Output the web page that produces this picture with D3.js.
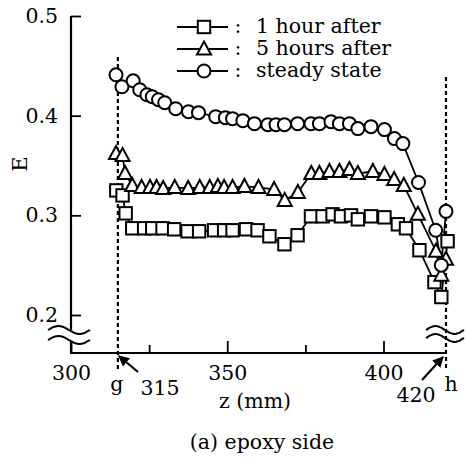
<!DOCTYPE html>
<html>
<head>
<meta charset="utf-8">
<script src="https://cdn.jsdelivr.net/npm/d3@7"></script>
<style>
  body { margin: 0; background: #fff; }
  text { font-family: "DejaVu Serif", serif; fill: #000; }
</style>
</head>
<body>
<svg id="chart" width="466" height="460"></svg>
<script>
// values: z (mm) and E for each curve
var hour1Z = [314.5, 316.5, 317.5, 319.6, 323.4, 326, 329.3, 333, 337.3, 341, 345.8, 349, 351.7, 356, 359.7, 363.5, 368.3, 372.5, 376.8, 380.5, 383.7, 386.4, 389.6, 391.8, 396, 400.3, 404.6, 407.2, 411.5, 416.3, 418.5, 420.5]
var hour1E = [0.325, 0.320, 0.302, 0.287, 0.287, 0.287, 0.287, 0.286, 0.284, 0.284, 0.285, 0.285, 0.285, 0.286, 0.285, 0.279, 0.271, 0.280, 0.299, 0.299, 0.301, 0.299, 0.300, 0.296, 0.299, 0.298, 0.291, 0.287, 0.265, 0.233, 0.218, 0.274]

var hour5Z = [314.4, 316.5, 317.3, 319.6, 322.6, 325.3, 327.4, 329.5, 333.2, 337.5, 341.2, 344.4, 347, 349, 351.7, 355.5, 360, 365, 368.4, 372.6, 376.9, 379.5, 382.7, 385.9, 389.1, 391.8, 396.6, 400.3, 403.4, 406.5, 411, 416.8, 418.5, 420]
var hour5E = [0.362, 0.360, 0.342, 0.330, 0.328, 0.328, 0.328, 0.327, 0.328, 0.327, 0.328, 0.328, 0.329, 0.328, 0.328, 0.329, 0.328, 0.326, 0.315, 0.323, 0.342, 0.342, 0.344, 0.344, 0.346, 0.342, 0.344, 0.341, 0.336, 0.330, 0.301, 0.264, 0.240, 0.256]

var steadyZ = [314.4, 316.3, 319.9, 322, 324.3, 326, 328, 330, 333.5, 337.6, 340.8, 346.3, 349.4, 351.7, 355, 358.7, 363, 365.6, 368.3, 372.5, 376.8, 379.5, 383.2, 385.9, 389.1, 391.8, 396, 400.3, 403.5, 406.2, 411.2, 416.7, 418.5, 420]
var steadyE = [0.441, 0.429, 0.435, 0.426, 0.421, 0.419, 0.416, 0.413, 0.407, 0.404, 0.403, 0.399, 0.398, 0.397, 0.395, 0.392, 0.391, 0.391, 0.391, 0.392, 0.392, 0.392, 0.394, 0.392, 0.392, 0.387, 0.389, 0.386, 0.377, 0.372, 0.333, 0.285, 0.250, 0.304]

var yTicks = [0.2, 0.3, 0.4, 0.5]
var xMajor = [300, 350, 400]
var xMinor = [325, 375]
var legendLabels = ["1 hour after", "5 hours after", "steady state"]

var svg = d3.select("#chart")

var x = d3.scaleLinear().domain([300, 420]).range([71, 446])
var y = d3.scaleLinear().domain([0.2, 0.5]).range([315, 16])
var axisY = 353

// y axis (ticks inside), domain drawn by hand because of the break
var yAxis = svg.append("g")
  .attr("transform", "translate(" + x(300) + ",0)")
  .call(d3.axisLeft(y).tickValues(yTicks).tickFormat(d3.format(".1f")).tickSize(-10).tickPadding(13))
yAxis.select(".domain").remove()
yAxis.selectAll("line").attr("stroke", "#000").attr("stroke-width", 1.8)
yAxis.selectAll("text").style("font-size", "20.5px").attr("fill", "#000")

// x axis, major and minor ticks pointing up
var xAxis = svg.append("g")
  .attr("transform", "translate(0," + axisY + ")")
  .call(d3.axisBottom(x).tickValues(xMajor).tickSize(-12).tickPadding(12))
xAxis.select(".domain").remove()
xAxis.selectAll("line").attr("stroke", "#000").attr("stroke-width", 1.8)
xAxis.selectAll("text").style("font-size", "20.5px").attr("fill", "#000")

var xMin = svg.append("g")
  .attr("transform", "translate(0," + axisY + ")")
  .call(d3.axisBottom(x).tickValues(xMinor).tickSize(-8).tickFormat(""))
xMin.select(".domain").remove()
xMin.selectAll("line").attr("stroke", "#000").attr("stroke-width", 1.8)

var ax = svg.append("g").attr("stroke", "#000").attr("stroke-width", 2.2).attr("fill", "none")
ax.append("line").attr("x1", x(300)).attr("x2", x(300)).attr("y1", y(0.5)).attr("y2", 330)
ax.append("line").attr("x1", x(300)).attr("x2", x(300)).attr("y1", 341).attr("y2", axisY)
ax.append("line").attr("x1", x(300) - 1).attr("x2", x(420)).attr("y1", axisY).attr("y2", axisY)

// wavy break marks
function tilde(cx, cy, w) {
  var pts = d3.range(0, 1.001, 0.05).map(t => [cx - w / 2 + t * w, cy - 4 * Math.sin(2 * Math.PI * t)])
  return d3.line().curve(d3.curveBasis)(pts)
}
var breaks = svg.append("g").attr("stroke", "#000").attr("stroke-width", 2).attr("fill", "none")
breaks.append("path").attr("d", tilde(69, 330, 42))
breaks.append("path").attr("d", tilde(69, 340, 42))
breaks.append("path").attr("d", tilde(445, 330, 38))
breaks.append("path").attr("d", tilde(445, 338, 38))

// dashed guide lines at g and h
var guides = svg.append("g").attr("stroke", "#000").attr("stroke-width", 2.2).attr("stroke-dasharray", "4,3")
guides.append("line").attr("x1", x(315)).attr("x2", x(315)).attr("y1", 57).attr("y2", 371)
guides.append("line").attr("x1", x(420)).attr("x2", x(420)).attr("y1", 77).attr("y2", 371)

// arrows
svg.append("defs").append("marker")
  .attr("id", "arr").attr("viewBox", "0 0 10 10").attr("refX", 9).attr("refY", 5)
  .attr("markerWidth", 5).attr("markerHeight", 5).attr("orient", "auto")
  .append("path").attr("d", "M0,0 L10,5 L0,10 z").attr("fill", "#000")
svg.append("line").attr("x1", 138).attr("y1", 372).attr("x2", x(315) + 1).attr("y2", 356)
  .attr("stroke", "#000").attr("stroke-width", 2.2).attr("marker-end", "url(#arr)")
svg.append("line").attr("x1", 422).attr("y1", 380).attr("x2", x(420) - 3).attr("y2", 357)
  .attr("stroke", "#000").attr("stroke-width", 2.2).attr("marker-end", "url(#arr)")

// labels
function label(t, px, py, size) {
  svg.append("text").attr("x", px).attr("y", py).attr("text-anchor", "middle")
    .style("font-size", (size || 20.5) + "px").text(t)
}
label("g", x(315) - 1, 391)
label("315", 160, 395)
label("420", 416, 402)
label("h", 451, 391)
label("z (mm)", 255, 408)
label("(a) epoxy side", 262, 449)
svg.append("text").attr("transform", "translate(27,164) rotate(-90)")
  .attr("text-anchor", "middle").style("font-size", "21px").text("E")

// markers
function square(g) {
  g.append("rect").attr("x", -6.2).attr("y", -6.2).attr("width", 12.4).attr("height", 12.4)
}
function triangle(g) {
  g.append("path").attr("d", "M0,-7.5 L7,5.5 L-7,5.5 Z")
}
function circle(g) {
  g.append("circle").attr("r", 6.5)
}

var series = [
  { z: hour1Z, e: hour1E, mark: square },
  { z: hour5Z, e: hour5E, mark: triangle },
  { z: steadyZ, e: steadyE, mark: circle }
]

var line = d3.line().x(d => x(d[0])).y(d => y(d[1]))

series.forEach(function(s) {
  var pts = s.z.map((z, i) => [z, s.e[i]])
  svg.append("path").datum(pts).attr("d", line)
    .attr("fill", "none").attr("stroke", "#000").attr("stroke-width", 1.8)
})
series.forEach(function(s) {
  var pts = s.z.map((z, i) => [z, s.e[i]])
  svg.append("g").selectAll("g").data(pts).enter().append("g")
    .attr("transform", d => "translate(" + x(d[0]) + "," + y(d[1]) + ")")
    .attr("fill", "#fff").attr("stroke", "#000").attr("stroke-width", 2)
    .each(function() { s.mark(d3.select(this)) })
})

// legend
var legY = [27, 49, 71]
series.forEach(function(s, i) {
  var g = svg.append("g")
  g.append("line").attr("x1", 177).attr("x2", 228).attr("y1", legY[i]).attr("y2", legY[i])
    .attr("stroke", "#000").attr("stroke-width", 1.8)
  var m = g.append("g").attr("transform", "translate(204," + legY[i] + ")")
    .attr("fill", "#fff").attr("stroke", "#000").attr("stroke-width", 2)
  s.mark(m)
  g.append("text").attr("x", 238).attr("y", legY[i] + 6).attr("text-anchor", "middle")
    .style("font-size", "20.5px").text(":")
  g.append("text").attr("x", 256).attr("y", legY[i] + 6)
    .style("font-size", "20.5px").text(legendLabels[i])
})
</script>
</body>
</html>
